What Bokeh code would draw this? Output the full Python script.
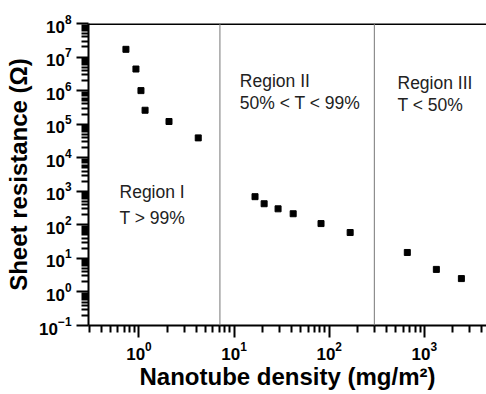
from bokeh.plotting import figure
from bokeh.models import Range1d, Span, FixedTicker, ColumnDataSource
from bokeh.embed import file_html
from bokeh.resources import INLINE
from bokeh.core.properties import value

# --- data ---
density = [0.73, 0.93, 1.05, 1.16, 2.07, 4.2,
           16.6, 20.7, 29.0, 41.8, 82.0, 166.0,
           662.0, 1337.0, 2450.0]
resistance = [1.7e7, 4.4e6, 1.0e6, 2.6e5, 1.2e5, 3.9e4,
              690.0, 425.0, 300.0, 214.0, 109.0, 59.0,
              15.0, 4.7, 2.5]
region_bounds = [7.1, 298.0]

region_text = ["Region I", "T > 99%",
               "Region II", "50% < T < 99%",
               "Region III", "T < 50%"]
region_x = [0.625, 0.625, 11.5, 11.5, 522.0, 522.0]
region_y = [920.0, 155.0, 2.0e6, 4.4e5, 1.65e6, 3.8e5]

x_major = [1, 10, 100, 1000]
y_major = [10.0 ** n for n in range(-1, 9)]

x_minor = [k * 10.0 ** n for n in range(-1, 4) for k in range(2, 10)]
y_minor = [k * 10.0 ** n for n in range(-1, 8) for k in range(2, 10)]

FONT = "Liberation Sans"

p = figure(width=486, height=394, x_axis_type="log", y_axis_type="log",
           x_range=Range1d(0.295, 4500), y_range=Range1d(0.1, 1e8),
           output_backend="svg", toolbar_location=None,
           min_border_left=88, min_border_right=0,
           min_border_top=23, min_border_bottom=69)

p.outline_line_color = None
p.grid.visible = False
p.background_fill_color = "white"
p.border_fill_color = "white"

for ax in (p.xaxis[0], p.yaxis[0]):
    ax.axis_line_width = 2
    ax.axis_line_color = "black"
    ax.major_tick_line_width = 2
    ax.minor_tick_line_width = 2
    ax.major_tick_line_color = "black"
    ax.minor_tick_line_color = "black"
    ax.major_tick_in = 0
    ax.minor_tick_in = 0
    ax.major_tick_out = 12
    ax.minor_tick_out = 7
    ax.major_label_text_font = FONT
    ax.major_label_text_font_style = "bold"
    ax.major_label_text_font_size = "17px"
    ax.major_label_text_color = "black"
    ax.axis_label_text_font = FONT
    ax.axis_label_text_font_style = "bold"
    ax.axis_label_text_color = "black"
    ax.axis_label_text_font_size = "24px"

p.xaxis.ticker = FixedTicker(ticks=x_major, minor_ticks=x_minor)
p.yaxis.ticker = FixedTicker(ticks=y_major, minor_ticks=y_minor)
p.xaxis.axis_label = "Nanotube density (mg/m²)"
p.yaxis.axis_label = "Sheet resistance (Ω)"
p.xaxis.major_label_standoff = 4
p.yaxis.major_label_standoff = 5
p.xaxis.axis_label_standoff = 0
p.yaxis.axis_label_standoff = 4

# top frame line
p.add_layout(Span(location=1e8, dimension="width", line_color="black", line_width=3))

# region separators
for b in region_bounds:
    p.add_layout(Span(location=b, dimension="height", line_color="#777777", line_width=1))

src = ColumnDataSource(dict(x=density, y=resistance))
p.scatter("x", "y", source=src, marker="square", size=6, color="black")

tsrc = ColumnDataSource(dict(x=region_x, y=region_y, t=region_text))
p.text("x", "y", text="t", source=tsrc, text_font=value(FONT),
       text_font_size="17.5px", text_color="#222222",
       text_baseline="alphabetic", text_align="left")

open("out.html", "w").write(file_html(p, INLINE))
